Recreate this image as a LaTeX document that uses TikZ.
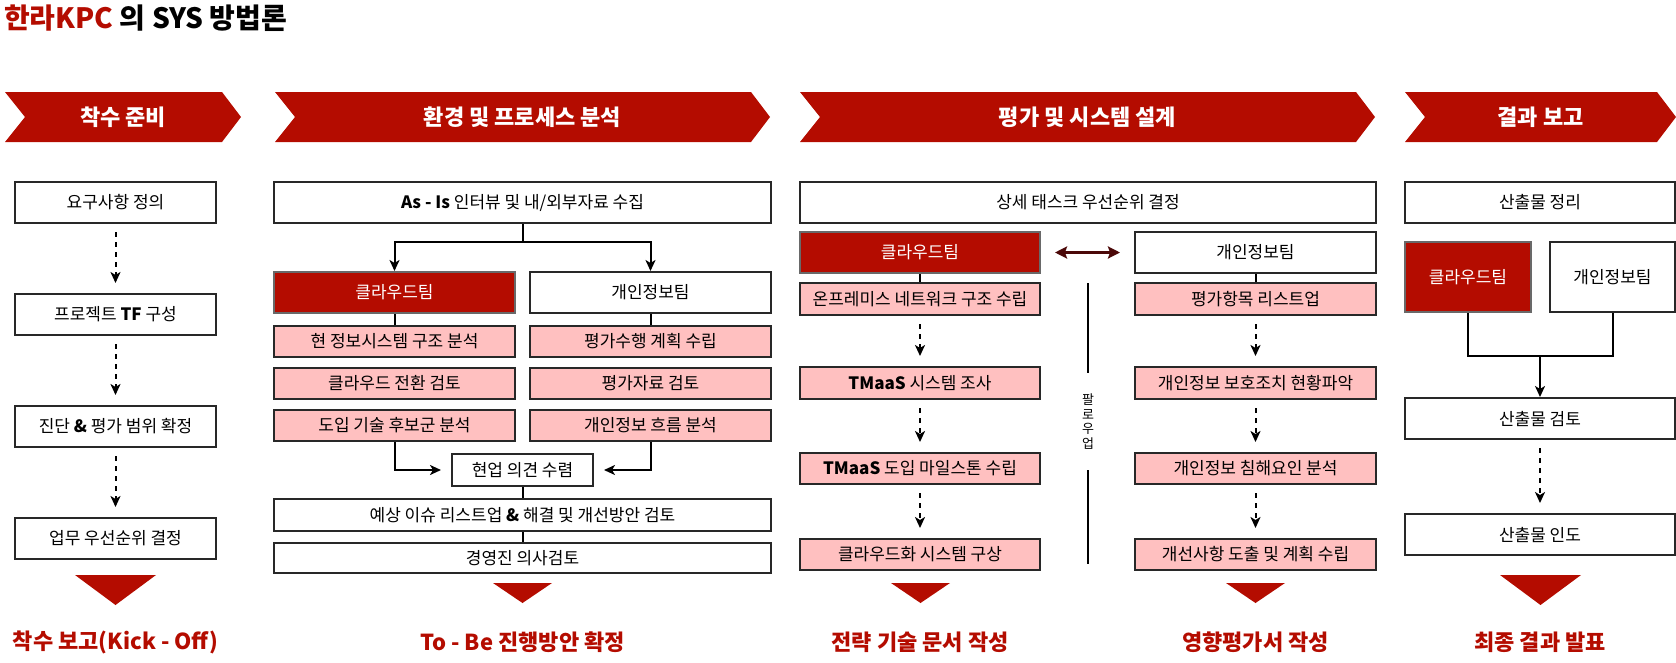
\documentclass[tikz,border=0pt]{standalone}
\usepackage{fontspec}
\setmainfont{Noto Sans CJK KR}
\usepackage{xcolor}
\usetikzlibrary{arrows.meta, positioning, calc}

\definecolor{hanred}{RGB}{180,12,0}
\definecolor{pinkfill}{RGB}{255,192,192}
\definecolor{boxedge}{RGB}{40,40,40}
\definecolor{cloudedge}{RGB}{105,105,105}
\definecolor{linkred}{RGB}{75,8,8}

\begin{document}
\begin{tikzpicture}[
        x=1pt, y=-1pt,
        box/.style={rectangle, draw=boxedge, line width=2pt, fill=white, minimum height=41pt, inner sep=0pt, align=center, font=\fontsize{17}{20}\selectfont},
        pinkbox/.style={box, fill=pinkfill, minimum height=31pt},
        cloudbox/.style={box, draw=cloudedge, fill=hanred, text=white},
        phase/.style={text=white, font=\fontsize{22}{26}\selectfont\bfseries},
        result/.style={text=hanred, font=\fontsize{22}{26}\selectfont\bfseries},
        conn/.style={line width=2pt, draw=black},
        arrow/.style={conn, -{Stealth[length=11pt, width=10pt, inset=3pt]}},
        dasharrow/.style={arrow, dash pattern=on 5pt off 5pt, shorten <=8pt, shorten >=10pt}
    ]
    \useasboundingbox (0,0) rectangle (1676,662);

    \node[anchor=base west, inner sep=0pt, font=\fontsize{28}{32}\selectfont\bfseries] (title) at (4,28) {\textcolor{hanred}{한라KPC} 의 SYS 방법론};

    % phase banners
    \foreach \xl/\xr/\ph/\txt in {5/241/ph1/착수 준비, 275/770/ph2/환경 및 프로세스 분석, 800/1375/ph3/평가 및 시스템 설계, 1405/1676/ph4/결과 보고} {
        \fill[hanred] (\xl,92) -- (\xr-19,92) -- (\xr,117) -- (\xr-19,142) -- (\xl,142) -- (\xl+20,117) -- cycle;
        \node[phase] (\ph) at ({(\xl+\xr)/2},117) {\txt};
    }

    % kick-off
    \node[box, minimum width=201pt] (req) at (115.5,202.5) {요구사항 정의};
    \node[box, minimum width=201pt, below=69pt of req] (tf) {프로젝트 \textbf{TF} 구성};
    \node[box, minimum width=201pt, below=69pt of tf] (scope) {진단 \textbf{\&} 평가 범위 확정};
    \node[box, minimum width=201pt, below=69pt of scope] (prio) {업무 우선순위 결정};

    \draw[dasharrow] (req) -- (tf);
    \draw[dasharrow] (tf) -- (scope);
    \draw[dasharrow] (scope) -- (prio);

    % as-is analysis
    \node[box, minimum width=497pt] (asis) at (522.5,202.5) {\textbf{As - Is} 인터뷰 및 내/외부자료 수집};
    \node[cloudbox, minimum width=241pt] (cloud2) at (394.5,292.5) {클라우드팀};
    \node[box, minimum width=241pt] (priv2) at (650.5,292.5) {개인정보팀};
    \node[pinkbox, minimum width=241pt, below=11pt of cloud2] (cur) {현 정보시스템 구조 분석};
    \node[pinkbox, minimum width=241pt, below=9pt of cur] (conv) {클라우드 전환 검토};
    \node[pinkbox, minimum width=241pt, below=9pt of conv] (cand) {도입 기술 후보군 분석};
    \node[pinkbox, minimum width=241pt, below=11pt of priv2] (plan) {평가수행 계획 수립};
    \node[pinkbox, minimum width=241pt, below=9pt of plan] (data) {평가자료 검토};
    \node[pinkbox, minimum width=241pt, below=9pt of data] (flow) {개인정보 흐름 분석};
    \node[box, minimum width=141pt, minimum height=32pt] (opin) at (522.5,470) {현업 의견 수렴};
    \node[box, minimum width=497pt, minimum height=32pt] (issue) at (522.5,515) {예상 이슈 리스트업 \textbf{\&} 해결 및 개선방안 검토};
    \node[box, minimum width=497pt, minimum height=30pt] (exec) at (522.5,558) {경영진 의사검토};

    \coordinate (split) at (522.5,242);
    \draw[conn] (asis) -- (split);
    \draw[arrow] (split) -| (cloud2);
    \draw[arrow] (split) -| (priv2);
    \draw[conn] (cloud2) -- (cur);
    \draw[conn] (priv2) -- (plan);
    \draw[arrow, shorten >=10pt] (cand) |- (opin);
    \draw[arrow, shorten >=10pt] (flow) |- (opin);
    \draw[conn] (opin) -- (issue);
    \draw[conn] (issue) -- (exec);

    % evaluation and design
    \node[box, minimum width=576pt] (task) at (1088,202.5) {상세 태스크 우선순위 결정};
    \node[cloudbox, minimum width=240pt] (cloud3) at (920,252.5) {클라우드팀};
    \node[box, minimum width=241pt] (priv3) at (1255.5,252.5) {개인정보팀};
    \node[pinkbox, minimum width=240pt, minimum height=32pt, below=8pt of cloud3] (onprem) {온프레미스 네트워크 구조 수립};
    \node[pinkbox, minimum width=240pt, minimum height=32pt, below=50pt of onprem] (survey) {\textbf{TMaaS} 시스템 조사};
    \node[pinkbox, minimum width=240pt, below=52pt of survey] (mile) {\textbf{TMaaS} 도입 마일스톤 수립};
    \node[pinkbox, minimum width=240pt, below=53pt of mile] (design) {클라우드화 시스템 구상};
    \node[pinkbox, minimum width=241pt, minimum height=32pt, below=8pt of priv3] (items) {평가항목 리스트업};
    \node[pinkbox, minimum width=241pt, minimum height=32pt, below=50pt of items] (guard) {개인정보 보호조치 현황파악};
    \node[pinkbox, minimum width=241pt, below=52pt of guard] (risk) {개인정보 침해요인 분석};
    \node[pinkbox, minimum width=241pt, below=53pt of risk] (improve) {개선사항 도출 및 계획 수립};

    \draw[linkred, line width=3pt, {Stealth[length=12pt, width=12pt, inset=2pt]}-{Stealth[length=12pt, width=12pt, inset=2pt]}, shorten <=14pt, shorten >=14pt] (cloud3) -- (priv3);
    \draw[conn] (cloud3) -- (onprem);
    \draw[conn] (priv3) -- (items);
    \draw[dasharrow] (onprem) -- (survey);
    \draw[dasharrow] (survey) -- (mile);
    \draw[dasharrow] (mile) -- (design);
    \draw[dasharrow] (items) -- (guard);
    \draw[dasharrow] (guard) -- (risk);
    \draw[dasharrow] (risk) -- (improve);

    \coordinate (futop) at (1088,283);
    \coordinate (fubot) at (1088,564);
    \node[inner sep=0pt, minimum height=97pt, align=center, font=\fontsize{13}{14.5}\selectfont] (follow) at (1088,421.5) {팔\\로\\우\\업};
    \draw[conn] (futop) -- (follow);
    \draw[conn] (follow) -- (fubot);

    % final report
    \node[box, minimum width=270pt] (sort) at (1540,202.5) {산출물 정리};
    \node[cloudbox, minimum width=126pt, minimum height=70pt] (cloud4) at (1468,277) {클라우드팀};
    \node[box, minimum width=125pt, minimum height=70pt] (priv4) at (1612.5,277) {개인정보팀};
    \node[box, minimum width=270pt] (check) at (1540,418.5) {산출물 검토};
    \node[box, minimum width=270pt, below=73pt of check] (deliver) {산출물 인도};

    \coordinate (merge) at (1540,356);
    \draw[conn] (cloud4) |- (merge);
    \draw[conn] (priv4) |- (merge);
    \draw[arrow] (merge) -- (check);
    \draw[dasharrow] (check) -- (deliver);

    % outputs
    \foreach \cx/\w/\top/\tip in {115.5/81/575/605, 522.5/59/583/603, 920.5/59/583/603, 1255.5/59/583/603, 1540.5/81/575/605}
        \fill[hanred] (\cx-\w/2,\top) -- (\cx+\w/2,\top) -- (\cx,\tip) -- cycle;

    \node[result] (out1) at (115.5,642) {착수 보고(Kick - Off)};
    \node[result] (out2) at (522.5,642) {To - Be 진행방안 확정};
    \node[result] (out3) at (920,642) {전략 기술 문서 작성};
    \node[result] (out4) at (1255.5,642) {영향평가서 작성};
    \node[result] (out5) at (1540,642) {최종 결과 발표};

\end{tikzpicture}
\end{document}
